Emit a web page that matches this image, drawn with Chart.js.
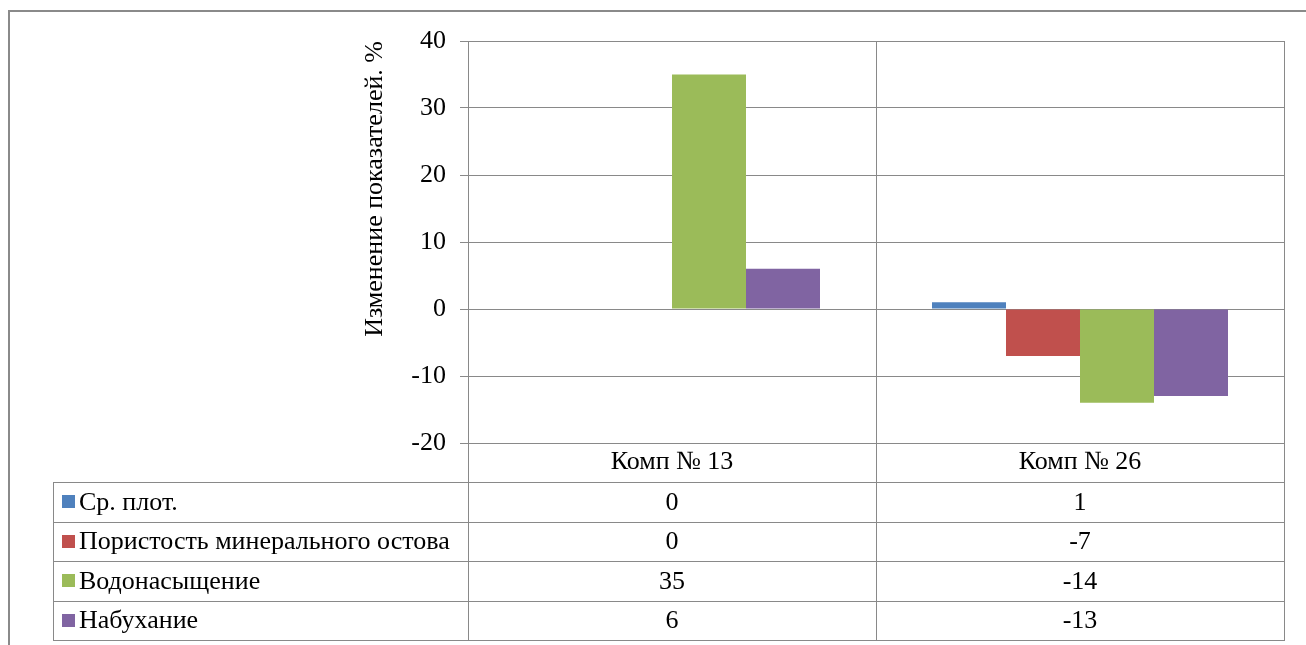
<!DOCTYPE html>
<html>
<head>
<meta charset="utf-8">
<title>Изменение показателей</title>
<script src="https://cdn.jsdelivr.net/npm/chart.js@4"></script>
<style>
  html, body { margin: 0; padding: 0; background: #fff; }
  #wrap { width: 1306px; height: 645px; }
</style>
</head>
<body>
<div id="wrap"><canvas id="chart" width="1306" height="645"></canvas></div>
<script>
// Categories (samples) and the change of each indicator, %
const categories = ['Комп № 13', 'Комп № 26'];
const seriesNames = ['Ср. плот.', 'Пористость минерального остова', 'Водонасыщение', 'Набухание'];
const avgDensity = [0, 1];
const skeletonPorosity = [0, -7];
const waterSaturation = [35, -14];
const swelling = [6, -13];
const yTickMin = -20;
const yTickMax = 40;
const yTickStep = 10;

const seriesValues = [avgDensity, skeletonPorosity, waterSaturation, swelling];
const seriesColors = ['#4F81BD', '#C0504D', '#9BBB59', '#8064A2'];

const FONT_FAMILY = 'serif';
const FONT_SIZE = 26;
const GRID_COLOR = '#898989';

// Data table layout below the plot
const TABLE_LEFT = 53;
const HEADER_H = 39;
const ROW_H = 39.5;

const framePlugin = {
  id: 'frame',
  beforeDraw(chart) {
    const ctx = chart.ctx;
    ctx.save();
    ctx.fillStyle = '#fff';
    ctx.fillRect(0, 0, chart.width, chart.height);
    ctx.strokeStyle = '#8a8a8a';
    ctx.lineWidth = 2;
    ctx.beginPath();
    ctx.moveTo(9, chart.height + 2);
    ctx.lineTo(9, 11);
    ctx.lineTo(chart.width + 2, 11);
    ctx.stroke();
    ctx.restore();
  }
};

const dataTablePlugin = {
  id: 'dataTable',
  afterDraw(chart) {
    const ctx = chart.ctx;
    const area = chart.chartArea;
    const x = chart.scales.x;
    const rowsTop = area.bottom + HEADER_H;
    const n = chart.data.datasets.length;
    const bottom = rowsTop + n * ROW_H;

    ctx.save();
    ctx.strokeStyle = GRID_COLOR;
    ctx.lineWidth = 1;
    const crisp = v => Math.round(v) + 0.5;

    // vertical lines: plot edges and category boundaries
    const boundaries = [area.left];
    for (let i = 0; i < categories.length - 1; i++) {
      boundaries.push((x.getPixelForValue(i) + x.getPixelForValue(i + 1)) / 2);
    }
    boundaries.push(area.right);
    ctx.beginPath();
    boundaries.forEach(bx => {
      ctx.moveTo(crisp(bx), area.bottom);
      ctx.lineTo(crisp(bx), crisp(bottom));
    });
    ctx.moveTo(crisp(TABLE_LEFT), crisp(rowsTop));
    ctx.lineTo(crisp(TABLE_LEFT), crisp(bottom));
    for (let r = 0; r <= n; r++) {
      const y = crisp(rowsTop + r * ROW_H);
      ctx.moveTo(TABLE_LEFT, y);
      ctx.lineTo(crisp(area.right) + 0.5, y);
    }
    ctx.stroke();

    // row labels with colour keys and values
    ctx.font = FONT_SIZE + 'px ' + FONT_FAMILY;
    ctx.textBaseline = 'middle';
    chart.data.datasets.forEach((ds, r) => {
      const cy = rowsTop + r * ROW_H + ROW_H / 2;
      ctx.fillStyle = ds.backgroundColor;
      ctx.fillRect(TABLE_LEFT + 9, Math.round(cy - 6.5), 13, 13);
      ctx.fillStyle = '#000';
      ctx.textAlign = 'left';
      ctx.fillText(ds.label, TABLE_LEFT + 26, cy + 1);
      ctx.textAlign = 'center';
      ds.data.forEach((v, i) => {
        ctx.fillText(String(v), x.getPixelForValue(i), cy + 1);
      });
    });
    ctx.restore();
  }
};

Chart.defaults.font.family = FONT_FAMILY;

new Chart(document.getElementById('chart'), {
  type: 'bar',
  data: {
    labels: categories,
    datasets: seriesNames.map((name, i) => ({
      label: name,
      data: seriesValues[i],
      backgroundColor: seriesColors[i],
      borderWidth: 0
    }))
  },
  options: {
    responsive: false,
    animation: false,
    events: [],
    layout: { padding: { left: 356, top: 41, right: 22, bottom: 5 } },
    datasets: { bar: { categoryPercentage: 0.7255, barPercentage: 1 } },
    plugins: {
      legend: { display: false },
      tooltip: { enabled: false }
    },
    scales: {
      x: {
        grid: { display: true, offset: true, color: GRID_COLOR, drawTicks: false, lineWidth: 1 },
        border: { display: true, color: GRID_COLOR },
        ticks: {
          color: '#000',
          padding: 4,
          font: { family: FONT_FAMILY, size: FONT_SIZE }
        },
        afterFit(scale) { scale.height = HEADER_H + seriesNames.length * ROW_H; }
      },
      y: {
        min: yTickMin,
        max: yTickMax,
        ticks: {
          stepSize: yTickStep,
          color: '#000',
          padding: 14,
          font: { family: FONT_FAMILY, size: FONT_SIZE }
        },
        grid: { color: GRID_COLOR, tickLength: 8, lineWidth: 1 },
        border: { display: true, color: GRID_COLOR },
        title: {
          display: true,
          text: 'Изменение показателей. %',
          color: '#000',
          align: 'end',
          padding: { top: 4, bottom: 0 },
          font: { family: FONT_FAMILY, size: FONT_SIZE }
        },
        afterFit(scale) { scale.width = 112; }
      }
    }
  },
  plugins: [framePlugin, dataTablePlugin]
});
</script>
</body>
</html>
